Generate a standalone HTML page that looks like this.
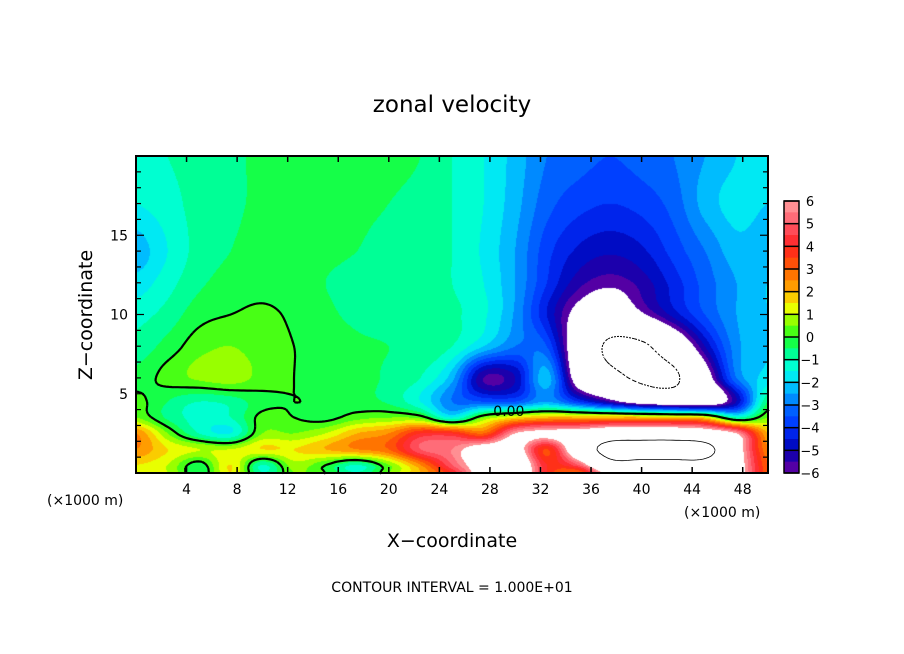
<!DOCTYPE html>
<html><head><meta charset="utf-8">
<style>
body{margin:0;background:#fff;width:904px;height:654px;overflow:hidden;font-family:"Liberation Sans",sans-serif;}
#wrap{position:relative;width:904px;height:654px;}
svg text{font-family:"DejaVu Sans","Liberation Sans",sans-serif;}
</style></head>
<body>
<div id="wrap">
<canvas id="cv" width="632" height="317" style="position:absolute;left:136px;top:156px"></canvas>
<svg id="sv" width="904" height="654" style="position:absolute;left:0;top:0"></svg>
</div>
<script>
const xs=[0,2.5,5,7.5,10,12.5,15,17.5,20,22.5,25,27.5,30,32.5,35,37.5,40,42.5,45,47.5,50];
const zs=[0,0.5,1.5,2.5,3.5,4.5,6,8,10,12,14,17,20];
const row0=[1,1,-0.5,1.5,-1,0.5,0,-1,0.5,2,4,7,8,4,3,7,8,8,8,7,3];
const row05=[1.5,1,-0.3,1.5,-1,0.8,0,-1,0.5,2.5,5,7,8,4,5,9,9,9,9,7,3];
const row15=[2.5,1.5,1,1,1.5,1.5,2,2.5,3,5,5.5,7,7,3.5,8,11,11.5,11.5,11,7,2.5];
const row25=[2.5,0.5,-1,-1.5,0.5,0.5,1,2,2.5,4,4,3,6,6.5,7,8,8,8,7.5,6,2];
const row35=[0.5,-0.6,-1.2,-1,0.2,0,-0.2,0.3,0.5,0.3,-1.5,0.5,1.5,2,2,2,2,1.8,1.5,-1,0.5];
const row45=[0.2,-0.5,-1,-0.8,-0.2,0,-0.1,-0.3,-0.6,-1.5,-3,-3.5,-3.5,-2.5,-4,-5.5,-7,-7.5,-7.5,-5,-0.5];
const row6=[-0.3,0.2,0.6,0.8,0.3,0,-0.2,-0.3,-0.6,-1,-2.3,-5.5,-5,-2.2,-7,-9,-10.5,-10.5,-7,-3,-1.8];
const row8=[-0.8,-0.3,0.3,0.5,0.2,0,-0.2,-0.4,-0.5,-0.6,-1,-2,-3,-3.5,-7.5,-10.5,-10.5,-8,-5,-2.7,-2];
const row10=[-1.2,-0.8,-0.2,0,0.1,-0.1,-0.4,-0.6,-0.7,-0.8,-0.9,-1.4,-2.6,-4.5,-6.5,-7.5,-6.2,-4.8,-3.5,-2.5,-2];
const row12=[-1.8,-1.2,-0.6,-0.3,-0.2,-0.3,-0.5,-0.6,-0.6,-0.8,-1,-1.5,-2.5,-4,-5.3,-5.8,-5.3,-4.3,-3.3,-2.5,-2];
const row14=[-2.3,-1.5,-0.8,-0.5,-0.3,-0.3,-0.4,-0.5,-0.6,-0.7,-1,-1.6,-2.5,-3.8,-4.6,-4.9,-4.6,-3.8,-3,-2.2,-2.3];
const row17=[-1.5,-1.2,-0.8,-0.6,-0.4,-0.3,-0.3,-0.4,-0.5,-0.7,-1,-1.5,-2.3,-3.3,-3.8,-4,-3.8,-3.3,-2.3,-1.8,-2];
const row20=[-1.2,-1,-0.8,-0.6,-0.4,-0.3,-0.2,-0.2,-0.3,-0.5,-1,-1.5,-2.2,-3,-3.3,-3.5,-3.3,-3,-2.5,-2,-1.6];
const rows=[row0,row05,row15,row25,row35,row45,row6,row8,row10,row12,row14,row17,row20];
const xTicks=[4,8,12,16,20,24,28,32,36,40,44,48];
const yTicks=[5,10,15];
const cbLabels=[6,5,4,3,2,1,0,-1,-2,-3,-4,-5,-6];

const L=136,T=156,W=632,H=317;
const sx=x=>L+x/50*W, sy=z=>T+H-z/20*H;
function cr(p0,p1,p2,p3,t){return 0.5*((2*p1)+(-p0+p2)*t+(2*p0-5*p1+4*p2-p3)*t*t+(-p0+3*p1-3*p2+p3)*t*t*t);}
function seg(arr,v){let i=0;while(i<arr.length-2&&v>arr[i+1])i++;return [i,Math.min(1,Math.max(0,(v-arr[i])/(arr[i+1]-arr[i])))];}
const cl=(k,n)=>Math.max(0,Math.min(n-1,k));
function rowAt(r,i,t){const n=xs.length;return cr(r[cl(i-1,n)],r[i],r[cl(i+1,n)],r[cl(i+2,n)],t);}
function field(x,z){
  const [i,tx]=seg(xs,x);const [j,tz]=seg(zs,z);const m=zs.length;
  const v=[-1,0,1,2].map(d=>rowAt(rows[cl(j+d,m)],i,tx));
  return cr(v[0],v[1],v[2],v[3],tz);
}
const stops=[[-6,[112,0,160]],[-5,[0,0,176]],[-4,[0,48,255]],[-3,[0,112,255]],[-2.3,[0,184,255]],[-1.5,[0,255,238]],[-0.7,[0,255,144]],[0,[32,255,32]],[0.7,[144,255,0]],[1.3,[240,255,0]],[2,[255,176,0]],[3,[255,96,0]],[4,[255,32,32]],[5,[255,90,106]],[6,[255,160,160]]];
function color(v){
  if(v<-6||v>6)return [255,255,255];
  v=Math.floor(v*2)/2+0.25;
  for(let k=0;k<stops.length-1;k++){const [a,ca]=stops[k],[b,cb]=stops[k+1];
    if(v<=b){const t=(v-a)/(b-a);return ca.map((c,q)=>Math.round(c+(cb[q]-c)*t));}}
  return stops[stops.length-1][1];
}
const ctx=document.getElementById('cv').getContext('2d');
const img=ctx.createImageData(W,H);
for(let py=0;py<H;py++)for(let px=0;px<W;px++){
  const v=field((px+0.5)/W*50,(H-py-0.5)/H*20);const c=color(v);const o=(py*W+px)*4;
  img.data[o]=c[0];img.data[o+1]=c[1];img.data[o+2]=c[2];img.data[o+3]=255;}
ctx.putImageData(img,0,0);

const NS='http://www.w3.org/2000/svg';const sv=document.getElementById('sv');
function el(t,a,txt){const e=document.createElementNS(NS,t);for(const k in a)e.setAttribute(k,a[k]);if(txt!==undefined)e.textContent=txt;sv.appendChild(e);return e;}
function contour(level){
  const st=3;let d='';
  for(let py=0;py<H;py+=st)for(let px=0;px<W;px+=st){
    const X=[px,px+st],Y=[py,py+st];
    const f=(a,b)=>field(a/W*50,(H-b)/H*20)-level;
    const v0=f(X[0],Y[0]),v1=f(X[1],Y[0]),v2=f(X[1],Y[1]),v3=f(X[0],Y[1]);
    const pts=[];
    const e=(va,vb,ax,ay,bx,by)=>{if((va>0)!==(vb>0)){const t=va/(va-vb);pts.push([L+ax+(bx-ax)*t,T+ay+(by-ay)*t]);}};
    e(v0,v1,X[0],Y[0],X[1],Y[0]);e(v1,v2,X[1],Y[0],X[1],Y[1]);e(v2,v3,X[1],Y[1],X[0],Y[1]);e(v3,v0,X[0],Y[1],X[0],Y[0]);
    for(let k=0;k+1<pts.length;k+=2)d+=`M${pts[k][0].toFixed(1)} ${pts[k][1].toFixed(1)}L${pts[k+1][0].toFixed(1)} ${pts[k+1][1].toFixed(1)}`;
  }
  return d;
}
const c0=el('path',{d:contour(0),stroke:'#000','stroke-width':2.2,fill:'none'});


const cp=el('path',{d:contour(10),stroke:'#000','stroke-width':0.8,fill:'none'});


const cn=el('path',{d:contour(-10),stroke:'#000','stroke-width':1,fill:'none','stroke-dasharray':'2 2'});


const l1=el('text',{x:sx(29.5),y:sy(3.6),'font-size':14,'text-anchor':'middle'},'0.00');


const fr=el('rect',{x:L,y:T,width:W,height:H,fill:'none',stroke:'#000','stroke-width':2});


for(const t of xTicks){
  el('line',{x1:sx(t),x2:sx(t),y1:T+H,y2:T+H-6,stroke:'#000','stroke-width':1.5});
  el('line',{x1:sx(t),x2:sx(t),y1:T,y2:T+6,stroke:'#000','stroke-width':1.5});
  const tl=el('text',{x:sx(t),y:T+H+21,'font-size':14,'text-anchor':'middle'},String(t));
  
  
}
for(let z=1;z<20;z++){const len=z%5===0?8:5;
  el('line',{x1:L,x2:L+len,y1:sy(z),y2:sy(z),stroke:'#000','stroke-width':1.2});
  el('line',{x1:L+W,x2:L+W-len,y1:sy(z),y2:sy(z),stroke:'#000','stroke-width':1.2});}
for(const t of yTicks){const tl=el('text',{x:L-8,y:sy(t)+5,'font-size':14,'text-anchor':'end'},String(t));
  
  }
const cbx=784,cbt=201,cbb=473,cbw=15,step=(cbb-cbt)/12;
for(let k=0;k<24;k++){const v=6-(k+0.5)*0.5;const c=color(v);
  el('rect',{x:cbx,y:cbt+k*step/2,width:cbw,height:step/2+0.5,fill:`rgb(${c})`});}
cbLabels.forEach((v,k)=>{el('line',{x1:cbx,x2:cbx+cbw,y1:cbt+k*step,y2:cbt+k*step,stroke:'#000','stroke-width':1.5});
  const tl=el('text',{x:cbx+26,y:cbt+k*step+5,'font-size':13,'text-anchor':'middle'},v<0?'\u2212'+(-v):String(v));
  
  });
const cf=el('rect',{x:cbx,y:cbt,width:cbw,height:cbb-cbt,fill:'none',stroke:'#000','stroke-width':1.5});


const tt=el('text',{x:452,y:112,'font-size':23,'text-anchor':'middle'},'zonal velocity');


const xt=el('text',{x:452,y:547,'font-size':19,'text-anchor':'middle'},'X\u2212coordinate');


const yt=el('text',{x:0,y:0,'font-size':19,'text-anchor':'middle',transform:'translate(92,315) rotate(-90)'},'Z\u2212coordinate');


const u1=el('text',{x:47,y:505,'font-size':14},'(\u00d71000 m)');


const u2=el('text',{x:684,y:517,'font-size':14},'(\u00d71000 m)');


const ci=el('text',{x:452,y:592,'font-size':14,'text-anchor':'middle'},'CONTOUR INTERVAL = 1.000E+01');


</script>
</body></html>
